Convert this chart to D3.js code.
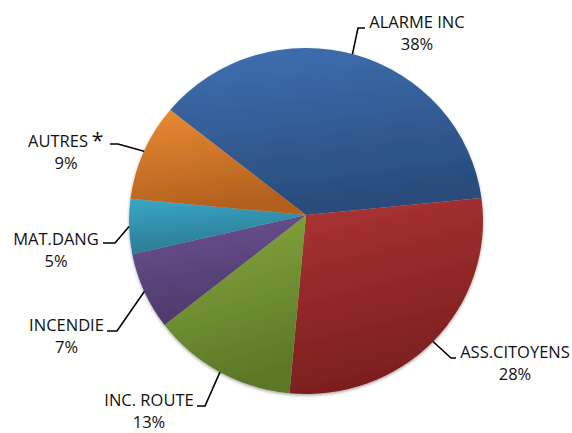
<!DOCTYPE html>
<html>
<head>
<meta charset="utf-8">
<script src="https://cdn.jsdelivr.net/npm/d3@7"></script>
<style>
  html, body { margin: 0; padding: 0; background: #fff; }
  svg { display: block; }
  text { font-family: "Open Sans", sans-serif; font-size: 16.5px; fill: #111; }
</style>
</head>
<body>
<svg id="chart" width="572" height="433"></svg>
<script>
// ---- data ----
const categories = ["ALARME INC", "ASS.CITOYENS", "INC. ROUTE", "INCENDIE", "MAT.DANG", "AUTRES"];
const values = [38, 28, 13, 7, 5, 9];
const colorsTop = ["#3f70b2", "#ad3434", "#88aa3e", "#6c5293", "#3aa7c6", "#ea8b34"];
const colorsBottom = ["#294c7c", "#7a1e1e", "#5c7828", "#4d386b", "#2a7a93", "#b2601e"];

// ---- layout ----
const W = 572, H = 433;
const apex = { x: 306, y: 215 };          // point where slices meet
const ell = { cx: 306, cy: 221, rx: 177, ry: 173 };
const startDeg = -52.3;
// label anchors: text centre x, first baseline y, leader end x (near text), elbow x
const labelLayout = [
  { tx: 417, ty: 28,  lx: 365, ex: 358, ly: 28 },
  { tx: 515, ty: 358, lx: 456, ex: 451, ly: 358 },
  { tx: 149, ty: 405.5, lx: 197, ex: 205, ly: 406 },
  { tx: 66.5, ty: 331, lx: 107, ex: 117, ly: 331 },
  { tx: 56, ty: 245, lx: 103, ex: 115, ly: 243 },
  { tx: 58, ty: 147, lx: 110, ex: 118, ly: 144, star: true, px: 66 }
];

const svg = d3.select("#chart");
const defs = svg.append("defs");

const f = defs.append("filter").attr("id", "shadow")
  .attr("x", "-10%").attr("y", "-10%").attr("width", "120%").attr("height", "120%");
f.append("feDropShadow").attr("dx", 0).attr("dy", 1.5).attr("stdDeviation", 1.6)
  .attr("flood-color", "#000").attr("flood-opacity", 0.35);

categories.forEach((c, i) => {
  const g = defs.append("linearGradient").attr("id", "grad" + i)
    .attr("x1", 0).attr("y1", 0).attr("x2", 0.25).attr("y2", 1);
  g.append("stop").attr("offset", "0%").attr("stop-color", colorsTop[i]);
  g.append("stop").attr("offset", "100%").attr("stop-color", colorsBottom[i]);
});

const pie = d3.pie().sort(null).value(d => d)
  .startAngle(startDeg * Math.PI / 180)
  .endAngle(startDeg * Math.PI / 180 + 2 * Math.PI);
const arcs = pie(values);

// point on the ellipse rim along a ray from the apex at d3 angle a
function rim(a) {
  const dx = Math.sin(a), dy = -Math.cos(a);
  const ax = apex.x - ell.cx, ay = apex.y - ell.cy;
  const A = dx * dx / (ell.rx * ell.rx) + dy * dy / (ell.ry * ell.ry);
  const B = 2 * (ax * dx / (ell.rx * ell.rx) + ay * dy / (ell.ry * ell.ry));
  const C = ax * ax / (ell.rx * ell.rx) + ay * ay / (ell.ry * ell.ry) - 1;
  const t = (-B + Math.sqrt(B * B - 4 * A * C)) / (2 * A);
  return [apex.x + t * dx, apex.y + t * dy];
}

function slicePath(d) {
  const p = d3.path();
  const p0 = rim(d.startAngle), p1 = rim(d.endAngle);
  p.moveTo(apex.x, apex.y);
  p.lineTo(p0[0], p0[1]);
  const large = (d.endAngle - d.startAngle) > Math.PI ? 1 : 0;
  return p.toString() + `A${ell.rx},${ell.ry},0,${large},1,${p1[0]},${p1[1]}Z`;
}

svg.append("g").attr("filter", "url(#shadow)")
  .selectAll("path").data(arcs).join("path")
  .attr("d", slicePath)
  .attr("fill", (d, i) => `url(#grad${i})`);

// leader lines
const lines = svg.append("g");
arcs.forEach((d, i) => {
  const L = labelLayout[i];
  const mid = (d.startAngle + d.endAngle) / 2;
  const r = rim(mid);
  lines.append("path")
    .attr("d", d3.line()([[L.lx, L.ly], [L.ex, L.ly], r]))
    .attr("fill", "none").attr("stroke", "#000").attr("stroke-width", 1.6);
});

// labels
const fmt = v => d3.format(".0%")(v / 100);
const labels = svg.append("g");
categories.forEach((c, i) => {
  const L = labelLayout[i];
  labels.append("text").attr("x", L.tx).attr("y", L.ty)
    .attr("text-anchor", "middle").text(c);
  if (L.star) {
    labels.append("text").attr("x", 97.5).attr("y", L.ty + 1)
      .attr("text-anchor", "middle").style("font-size", "21px").text("*");
  }
  labels.append("text").attr("x", L.px !== undefined ? L.px : L.tx).attr("y", L.ty + 22)
    .attr("text-anchor", "middle").text(fmt(values[i]));
});
</script>
</body>
</html>
